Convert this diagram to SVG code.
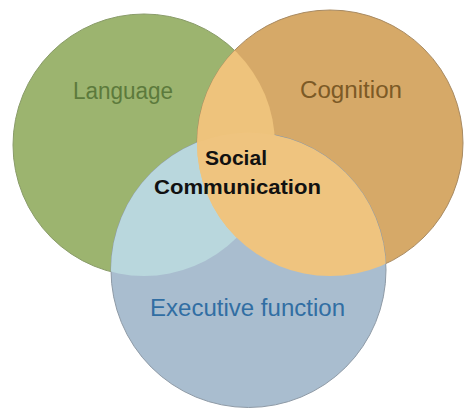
<svg xmlns="http://www.w3.org/2000/svg" width="464" height="409" viewBox="0 0 464 409">
  <defs>
    <clipPath id="clip-green"><circle cx="144" cy="145" r="131"/></clipPath>
    <clipPath id="clip-orange"><circle cx="330" cy="143" r="133"/></clipPath>
    <style>
      .ring { stroke-width: 1; }
      .label { font-family: "Liberation Sans", Arial, sans-serif; font-size: 23px; text-anchor: middle; }
      .center { font-family: "Liberation Sans", Arial, sans-serif; font-size: 21px; font-weight: bold; fill: #111; text-anchor: middle; }
    </style>
  </defs>
  <rect width="464" height="409" fill="#ffffff"/>

  <!-- base circles -->
  <g id="language">
    <circle class="ring" cx="144" cy="145" r="131" fill="#9cb46f" stroke="#8a9c6a"/>
  </g>
  <g id="cognition">
    <circle class="ring" cx="330" cy="143" r="133" fill="#d6a968" stroke="#a88a62"/>
  </g>
  <g id="executive-function">
    <circle class="ring" cx="248.5" cy="270" r="137.5" fill="#a9bdcf" stroke="#8e9aa6"/>
  </g>

  <!-- overlaps: language + executive function -->
  <g id="overlap-language-executive" clip-path="url(#clip-green)">
    <circle cx="248.5" cy="270" r="137.5" fill="#b9d7dd"/>
  </g>
  <!-- overlaps: cognition with the others -->
  <g id="overlap-cognition" clip-path="url(#clip-orange)">
    <circle cx="144" cy="145" r="131" fill="#eec37c"/>
    <circle cx="248.5" cy="270" r="137.5" fill="#efc47f"/>
  </g>

  <!-- labels -->
  <text class="label" x="123" y="99" fill="#5c7a3c" textLength="100" lengthAdjust="spacingAndGlyphs">Language</text>
  <text class="label" x="351" y="98" fill="#7c5a26" textLength="102" lengthAdjust="spacingAndGlyphs">Cognition</text>
  <text class="label" x="247.5" y="316" fill="#316ea3" textLength="195" lengthAdjust="spacingAndGlyphs">Executive function</text>
  <g id="social-communication">
    <text class="center" x="236" y="165" textLength="62" lengthAdjust="spacingAndGlyphs">Social</text>
    <text class="center" x="237.5" y="194" textLength="167" lengthAdjust="spacingAndGlyphs">Communication</text>
  </g>
</svg>
